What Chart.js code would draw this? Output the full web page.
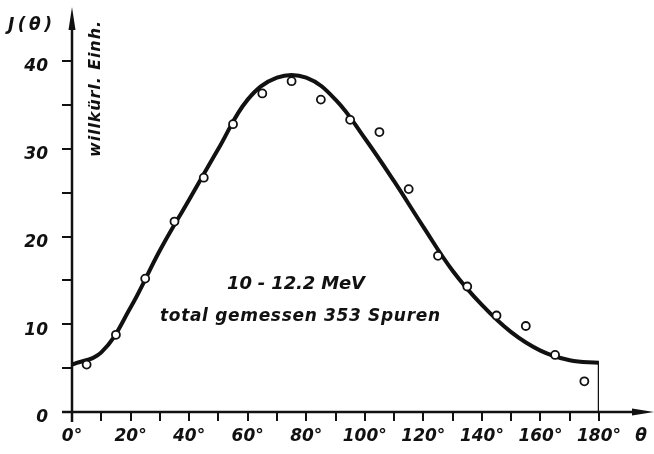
<!DOCTYPE html>
<html>
<head>
<meta charset="utf-8">
<script src="https://cdn.jsdelivr.net/npm/chart.js@4/dist/chart.umd.min.js"></script>
<style>
html, body { margin: 0; padding: 0; background: #fff; }
#wrap { width: 654px; height: 454px; }
</style>
</head>
<body>
<div id="wrap"><canvas id="chart"></canvas></div>
<script>
// measured points (open circles)
var measAngles = [5, 15, 25, 35, 45, 55, 65, 75, 85, 95, 105, 115, 125, 135, 145, 155, 165, 175];
var measValues = [5.4, 8.8, 15.2, 21.7, 26.7, 32.8, 36.3, 37.7, 35.6, 33.3, 31.9, 25.4, 17.8, 14.3, 11.0, 9.8, 6.5, 3.5];

// fitted curve
var fitAngles = [0, 10, 20, 30, 40, 50, 60, 70, 80, 90, 100, 110, 120, 130, 140, 150, 160, 170, 180];
var fitValues = [5.4, 6.8, 11.9, 18.4, 24.2, 30.0, 35.6, 38.1, 38.1, 35.6, 31.2, 26.3, 21.1, 16.1, 12.2, 9.1, 7.0, 5.9, 5.6];

// tick labels
var xTickLabels = ['0°', '20°', '40°', '60°', '80°', '100°', '120°', '140°', '160°', '180°'];
var yTickLabels = ['0', '10', '20', '30', '40'];

var INK = '#111';
var FONT = '"DejaVu Sans", sans-serif';

function pairs(xs, ys) {
    return xs.map(function(x, i) { return { x: x, y: ys[i] }; });
}

function spacedText(ctx, text, cx, cy, width) {
    ctx.letterSpacing = '0px';
    var natural = ctx.measureText(text).width;
    var sp = (width - natural) / (text.length - 1);
    ctx.letterSpacing = sp + 'px';
    ctx.textAlign = 'left';
    ctx.fillText(text, cx - width / 2, cy);
    ctx.letterSpacing = '0px';
}

var paperPlugin = {
    id: 'paper',
    afterDraw: function(chart) {
        var ctx = chart.ctx;
        var xs = chart.scales.x, ys = chart.scales.y;
        var x0 = xs.getPixelForValue(0), y0 = ys.getPixelForValue(0);
        ctx.save();
        ctx.strokeStyle = INK;
        ctx.fillStyle = INK;
        ctx.lineWidth = 2.5;
        ctx.lineCap = 'butt';

        // y axis with arrow
        ctx.beginPath();
        ctx.moveTo(x0, y0 + 10);
        ctx.lineTo(x0, 22);
        ctx.stroke();
        ctx.beginPath();
        ctx.moveTo(x0, 7);
        ctx.lineTo(x0 - 3.5, 30);
        ctx.lineTo(x0 + 3.5, 30);
        ctx.closePath();
        ctx.fill();

        // x axis with arrow
        ctx.beginPath();
        ctx.moveTo(x0 - 10, y0);
        ctx.lineTo(640, y0);
        ctx.stroke();
        ctx.beginPath();
        ctx.moveTo(654, y0);
        ctx.lineTo(632, y0 - 3.5);
        ctx.lineTo(632, y0 + 3.5);
        ctx.closePath();
        ctx.fill();

        ctx.textBaseline = 'middle';
        ctx.font = 'italic bold 17px ' + FONT;
        spacedText(ctx, 'J(θ)', 30, 26, 44);
        ctx.textAlign = 'center';
        ctx.fillText('θ', 641, 437);

        // unit label, rotated
        ctx.save();
        ctx.translate(96, 89);
        ctx.rotate(-Math.PI / 2);
        ctx.font = 'italic bold 16px ' + FONT;
        spacedText(ctx, 'willkürl. Einh.', 0, 0, 136);
        ctx.restore();

        // annotation
        ctx.font = 'italic bold 18px ' + FONT;
        spacedText(ctx, '10 - 12.2 MeV', 296, 284, 138);
        ctx.font = 'italic bold 17px ' + FONT;
        spacedText(ctx, 'total gemessen 353 Spuren', 300, 317, 280);
        ctx.restore();
    }
};

new Chart(document.getElementById('chart'), {
    type: 'scatter',
    data: {
        datasets: [{
            label: 'Fit',
            type: 'line',
            data: pairs(fitAngles, fitValues),
            borderColor: INK,
            borderWidth: 4,
            pointRadius: 0,
            tension: 0.4,
            fill: false,
            order: 2
        }, {
            label: 'Cut',
            type: 'line',
            data: [{ x: 180, y: fitValues[fitValues.length - 1] }, { x: 180, y: 0 }],
            borderColor: INK,
            borderWidth: 2.5,
            pointRadius: 0,
            fill: false,
            order: 3
        }, {
            label: 'Messung',
            data: pairs(measAngles, measValues),
            pointStyle: 'circle',
            pointRadius: 4,
            pointBorderWidth: 1.8,
            pointBorderColor: INK,
            pointBackgroundColor: '#fff',
            order: 1
        }]
    },
    options: {
        responsive: true,
        maintainAspectRatio: false,
        animation: false,
        events: [],
        layout: { padding: { left: 0, top: 61, right: 55, bottom: 0 } },
        plugins: { legend: { display: false }, tooltip: { enabled: false } },
        scales: {
            x: {
                type: 'linear',
                min: 0, max: 180,
                afterFit: function(s) { s.height = 42; },
                border: { display: false },
                grid: { drawOnChartArea: false, drawTicks: true, tickLength: 9, color: INK, lineWidth: 2 },
                ticks: {
                    stepSize: 10,
                    autoSkip: false,
                    maxRotation: 0,
                    padding: 5,
                    color: INK,
                    font: { family: FONT, size: 17, style: 'italic', weight: 'bold' },
                    callback: function(v) { return v % 20 === 0 ? xTickLabels[v / 20] : ''; }
                }
            },
            y: {
                type: 'linear',
                min: 0, max: 40,
                afterFit: function(s) { s.width = 72; },
                border: { display: false },
                grid: { drawOnChartArea: false, drawTicks: true, tickLength: 10, color: INK, lineWidth: 2 },
                ticks: {
                    stepSize: 5,
                    autoSkip: false,
                    padding: 14,
                    labelOffset: 6,
                    color: INK,
                    font: { family: FONT, size: 17, style: 'italic', weight: 'bold' },
                    callback: function(v) { return v % 10 === 0 ? yTickLabels[v / 10] : ''; }
                }
            }
        }
    },
    plugins: [paperPlugin]
});
</script>
</body>
</html>
